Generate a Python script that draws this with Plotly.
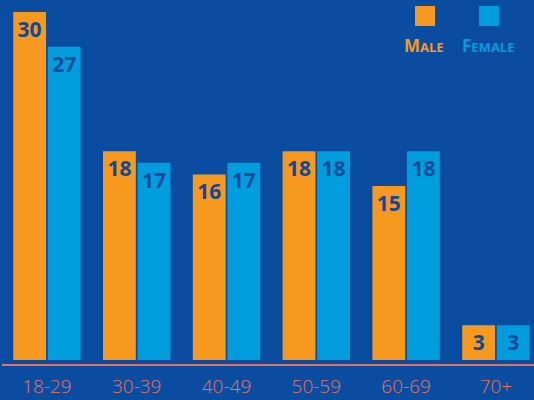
import plotly.graph_objects as go

categories = ["18-29", "30-39", "40-49", "50-59", "60-69", "70+"]
male = [30, 18, 16, 18, 15, 3]
female = [27, 17, 17, 18, 18, 3]

BG = "#0A4DA0"
ORANGE = "#F7991F"
BLUE = "#009DDD"
LABEL = "#0D4A9C"
AXIS = "#E8725C"

fig = go.Figure()
for vals, col, nm in [(male, ORANGE, "Male"), (female, BLUE, "Female")]:
    fig.add_trace(go.Bar(x=categories, y=vals, name=nm, marker_color=col,
                         marker_line_width=0,
                         text=vals, textposition="inside", insidetextanchor="end",
                         textfont=dict(family="Open Sans", size=21, color=LABEL, weight="bold"),
                         textangle=0, cliponaxis=False))

fig.update_layout(
    width=534, height=400,
    margin=dict(l=2, r=0, t=0, b=36),
    paper_bgcolor=BG, plot_bgcolor=BG,
    barmode="group", bargap=0.23, bargroupgap=0.05,
    showlegend=False,
    uniformtext=dict(minsize=10, mode="show"),
    xaxis=dict(range=[-0.5, 5.424], showgrid=False, zeroline=False,
               showline=True, linecolor=AXIS, linewidth=2, ticks="",
               ticklabelstandoff=4,
               tickfont=dict(family="Open Sans", size=19, color=AXIS, weight=300)),
    yaxis=dict(range=[-0.34, 31.03], visible=False, showgrid=False, zeroline=False),
)

# legend
fig.add_shape(type="rect", xref="paper", yref="paper", x0=(415-2)/532, x1=(435-2)/532,
              y0=(364-26)/364, y1=(364-6)/364, fillcolor=ORANGE, line_width=0)
fig.add_shape(type="rect", xref="paper", yref="paper", x0=(479-2)/532, x1=(499-2)/532,
              y0=(364-26)/364, y1=(364-6)/364, fillcolor=BLUE, line_width=0)
fig.add_annotation(xref="paper", yref="paper", x=(424-2)/532, y=(364-45)/364,
                   text="M<span style='font-size:13px'>ALE</span>", showarrow=False,
                   font=dict(family="Open Sans", size=17, color=ORANGE, weight="bold"),
                   xanchor="center", yanchor="middle")
fig.add_annotation(xref="paper", yref="paper", x=(488-2)/532, y=(364-45)/364,
                   text="F<span style='font-size:13px'>EMALE</span>", showarrow=False,
                   font=dict(family="Open Sans", size=17, color=BLUE, weight="bold"),
                   xanchor="center", yanchor="middle")

fig.write_html("out.html")
